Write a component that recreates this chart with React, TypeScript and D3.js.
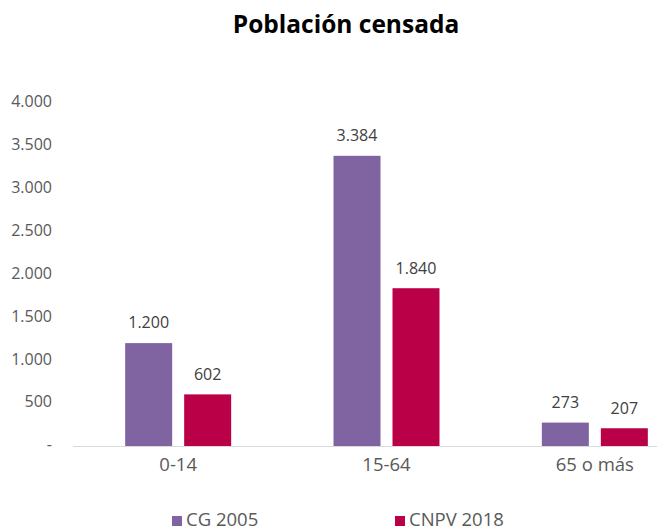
import React from "react";
import * as d3 from "d3";

const categories = ["0-14", "15-64", "65 o más"];
const seriesNames = ["CG 2005", "CNPV 2018"];
const cg2005 = [1200, 3384, 273];
const cnpv2018 = [602, 1840, 207];
const yTicks = [0, 500, 1000, 1500, 2000, 2500, 3000, 3500, 4000];
const colors = ["#8064A2", "#BA0047"];

const W = 657;
const H = 531;

const fmt = (v: number) => (v === 0 ? "-" : d3.format(",")(v).replace(/,/g, "."));

export default function App() {
  const x = d3.scaleBand<string>().domain(categories).range([74, 699]);
  const y = d3.scaleLinear().domain([0, 4000]).range([446, 103]);
  const barW = 47;
  const gap = 12;
  const series = [cg2005, cnpv2018];
  const font = "'Open Sans', 'Noto Sans', sans-serif";

  return (
    <div style={{ position: "fixed", left: 0, top: 0 }}>
      <svg width={W} height={H} style={{ display: "block", background: "#fff" }} fontFamily={font}>
        <text x={346} y={26} textAnchor="middle" dominantBaseline="middle" fontSize={24.5} fontWeight={700} fill="#000">
          Población censada
        </text>
        {yTicks.map((t) => (
          <text key={t} x={52} y={y(t)} textAnchor="end" dominantBaseline="middle" fontSize={16} fill="#595959">
            {fmt(t)}
          </text>
        ))}
        <line x1={73} x2={W} y1={446.5} y2={446.5} stroke="#D9D9D9" strokeWidth={1} />
        {categories.map((c, i) => {
          const cx = x(c)! + x.bandwidth() / 2;
          const gx = cx - (2 * barW + gap) / 2;
          return (
            <g key={c}>
              {series.map((s, k) => {
                const bx = gx + k * (barW + gap);
                const by = y(s[i]);
                return (
                  <g key={k}>
                    <rect x={bx} y={by} width={barW} height={y(0) - by} fill={colors[k]} />
                    <text x={bx + barW / 2} y={by - 19} textAnchor="middle" dominantBaseline="middle" fontSize={16} fill="#404040">
                      {fmt(s[i])}
                    </text>
                  </g>
                );
              })}
              <text x={cx} y={466} textAnchor="middle" dominantBaseline="middle" fontSize={18.5} fill="#595959">
                {c}
              </text>
            </g>
          );
        })}
        {seriesNames.map((n, k) => {
          const lx = k === 0 ? 172 : 395;
          return (
            <g key={n}>
              <rect x={lx} y={516} width={10} height={10} fill={colors[k]} />
              <text x={lx + 14} y={521} dominantBaseline="middle" fontSize={18.5} fill="#595959">
                {n}
              </text>
            </g>
          );
        })}
      </svg>
    </div>
  );
}
